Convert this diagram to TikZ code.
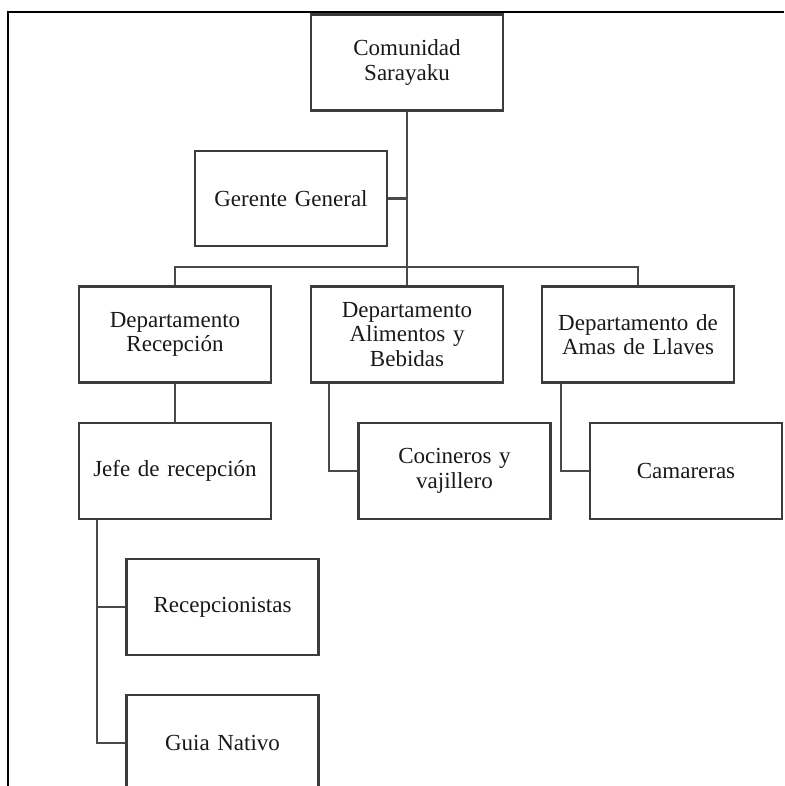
\documentclass[tikz,border=0pt]{standalone}
\usepackage{fontspec}
\setmainfont{Liberation Serif}
\definecolor{boxline}{HTML}{3C3C3C}
\definecolor{linkline}{HTML}{4A4A4A}

\begin{document}
\begin{tikzpicture}[
        x=1pt, y=-1pt,
        orgbox/.style={
          draw = boxline,
          line width = 2.4pt,
          minimum width = 192pt,
          minimum height = 96pt,
          text width = 180pt,
          align = center,
          inner sep = 0pt,
          font = \fontsize{23}{24.5}\selectfont,
          text = black!90,
        },
        link/.style={
          draw = linkline,
          line width = 2.4pt,
        },
        frame/.style={
          draw = black,
          line width = 2pt,
        },
        ]
        \useasboundingbox (0,0) rectangle (784,786);
        \clip (0,0) rectangle (784,786);
        % outer frame (only top and left are visible)
        \draw [frame] (8,786) -- (8,12) -- (784,12);
        % boxes
        \node [orgbox] (com) at (407,62.5) {Comunidad\\Sarayaku};
        \node [orgbox, minimum height=95pt] (ger) at (291,198.5) {Gerente General};
        \node [orgbox] (dr)  at (175,334.5) {Departamento\\Recepción};
        \node [orgbox] (dab) at (407,334.5) {Departamento\\Alimentos y\\Bebidas};
        \node [orgbox] (dal) at (638,334.5) {Departamento de\\Amas de Llaves};
        \node [orgbox] (jr)  at (175,471) {Jefe de recepción};
        \node [orgbox] (coc) at (454.5,471) {Cocineros y\\vajillero};
        \node [orgbox] (cam) at (686,471) {Camareras};
        \node [orgbox] (rec) at (222.5,607) {Recepcionistas};
        \node [orgbox] (gui) at (222.5,743) {Guia Nativo};
        % connectors
        \coordinate (bus) at (407,267);
        \draw [link] (com.south) -- (dab.north);
        \draw [link] (ger.east) -- (ger.east -| com.south);
        \draw [link] (dr.north) |- (bus) -| (dal.north);
        \draw [link] (dr.south) -- (jr.north);
        \draw [link] ([xshift=19pt]dab.south west) |- (coc.west);
        \draw [link] ([xshift=20pt]dal.south west) |- (cam.west);
        \draw [link] ([xshift=19pt]jr.south west) |- (rec.west);
        \draw [link] ([xshift=19pt]jr.south west) |- (gui.west);
      \end{tikzpicture}
\end{document}
